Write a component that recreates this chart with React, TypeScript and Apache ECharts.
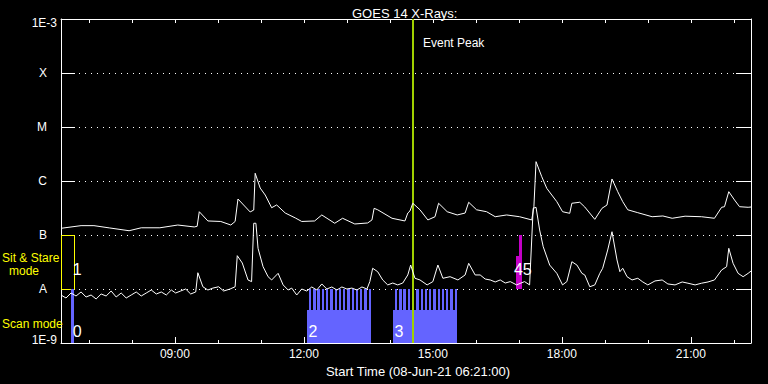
import React, { useEffect, useRef } from 'react';
import * as echarts from 'echarts';

const FONT = '"Liberation Sans", Arial, sans-serif';

// ---- axis definitions ----
const AXIS_START = '06:21';
const AXIS_END = '22:24';
const majorTickHours = [9, 12, 15, 18, 21];
const minorTickHours = [7, 8, 9, 10, 11, 12, 13, 14, 15, 16, 17, 18, 19, 20, 21, 22];
const yDecades = [-9, -8, -7, -6, -5, -4, -3];
const yTickLabels = ['1E-9', 'A', 'B', 'C', 'M', 'X', '1E-3'];

// ---- GOES long channel (1-8 A) ----
const longTimes = ['06:21','06:49','07:07','07:29','07:56','08:13','08:39','09:04','09:27','09:31','09:34','09:46','10:04','10:18','10:24','10:28','10:45','10:50','10:52','10:59','11:06','11:15','11:22','11:34','11:48','11:57','12:15','12:25','12:43','12:54','13:11','13:29','13:35','13:38','13:43','14:03','14:21','14:25','14:28','14:32','14:42','14:53','15:03','15:08','15:20','15:34','15:45','15:50','16:01','16:15','16:27','16:43','17:01','17:18','17:21','17:24','17:32','17:39','17:53','18:01','18:11','18:14','18:25','18:32','18:46','18:56','19:03','19:10','19:18','19:25','19:32','19:46','20:06','20:21','20:34','20:52','21:15','21:33','21:43','21:47','21:53','22:01','22:08','22:20','22:24'];
const longFlux = [1.33e-7,1.49e-7,1.49e-7,1.35e-7,1.2e-7,1.36e-7,1.36e-7,1.53e-7,1.41e-7,1.45e-7,2.7e-7,1.82e-7,1.78e-7,1.53e-7,1.78e-7,4.64e-7,2.67e-7,2.9e-7,1.39e-6,7.4e-7,5.5e-7,3.2e-7,3.6e-7,2.55e-7,2.07e-7,1.78e-7,1.82e-7,2.35e-7,1.65e-7,2.04e-7,1.6e-7,1.67e-7,1.9e-7,3.12e-7,2.93e-7,2.04e-7,1.82e-7,2.55e-7,2.78e-7,3.87e-7,2.93e-7,1.9e-7,2.18e-7,3.87e-7,2.7e-7,2.35e-7,2.55e-7,4.04e-7,2.93e-7,2.7e-7,2.18e-7,2.35e-7,2.18e-7,1.9e-7,3.34e-7,2.28e-6,1.2e-6,7.3e-7,4.14e-7,2.7e-7,2.52e-7,3.87e-7,4.04e-7,3.3e-7,1.95e-7,3.12e-7,3.59e-7,1.09e-6,6.34e-7,4.14e-7,2.93e-7,2.59e-7,2.18e-7,2.25e-7,2.04e-7,2.23e-7,2.18e-7,2.04e-7,3.26e-7,3.34e-7,6.34e-7,4.45e-7,3.34e-7,3.26e-7,3.3e-7];

// ---- GOES short channel (0.5-4 A) ----
const shortTimes = ['06:21','06:28','06:35','06:42','06:49','06:56','07:03','07:10','07:17','07:24','07:31','07:38','07:45','07:52','07:59','08:06','08:13','08:20','08:27','08:34','08:41','08:48','08:55','09:01','09:08','09:15','09:22','09:29','09:32','09:39','09:46','09:53','10:01','10:08','10:17','10:24','10:27','10:34','10:42','10:47','10:50','10:53','10:56','11:03','11:10','11:15','11:24','11:31','11:38','11:43','11:50','11:57','12:04','12:11','12:18','12:25','12:32','12:39','12:46','12:53','13:00','13:07','13:14','13:21','13:28','13:32','13:36','13:43','13:50','13:57','14:04','14:11','14:18','14:25','14:29','14:35','14:42','14:52','15:00','15:07','15:14','15:24','15:35','15:45','15:50','15:59','16:06','16:13','16:20','16:27','16:34','16:41','16:48','16:57','17:03','17:08','17:15','17:20','17:24','17:29','17:34','17:43','17:53','18:01','18:07','18:14','18:21','18:28','18:32','18:39','18:46','18:53','18:57','19:04','19:10','19:17','19:21','19:25','19:31','19:38','19:46','19:53','20:00','20:10','20:20','20:28','20:38','20:48','20:56','21:06','21:15','21:24','21:33','21:43','21:50','21:53','21:59','22:06','22:13','22:20','22:24'];
const shortFlux = [7.74e-9,6.81e-9,8.43e-9,7.42e-9,8.8e-9,7.11e-9,7.74e-9,6.53e-9,8.08e-9,7.42e-9,9.18e-9,7.11e-9,8.43e-9,6.81e-9,7.74e-9,8.8e-9,7.42e-9,8.43e-9,9.58e-9,8.08e-9,8.8e-9,7.74e-9,9.58e-9,8.43e-9,9.18e-9,1.0e-8,8.08e-9,8.8e-9,2.0e-8,1.1e-8,9.58e-9,1.04e-8,1.1e-8,9.18e-9,1.0e-8,1.1e-8,4.14e-8,3.03e-8,1.47e-8,1.37e-8,1.65e-7,1.65e-7,5.67e-8,2.59e-8,1.69e-8,1.47e-8,1.95e-8,1.19e-8,9.58e-9,1.04e-8,7.74e-9,1.0e-8,9.18e-9,1.09e-8,9.58e-9,1.24e-8,1.0e-8,1.09e-8,9.58e-9,1.09e-8,1.0e-8,1.04e-8,9.58e-9,1.09e-8,1.0e-8,1.37e-8,2.42e-8,2.09e-8,1.47e-8,1.19e-8,1.29e-8,1.19e-8,1.29e-8,1.82e-8,2.78e-8,1.58e-8,1.47e-8,1.19e-8,1.37e-8,2.78e-8,1.58e-8,1.69e-8,1.47e-8,1.82e-8,2.99e-8,1.82e-8,1.82e-8,1.53e-8,1.47e-8,1.35e-8,1.47e-8,1.29e-8,1.37e-8,1.19e-8,1.29e-8,1.37e-8,1.19e-8,3.12e-7,3.26e-7,1.24e-7,6.07e-8,2.78e-8,1.95e-8,1.19e-8,1.37e-8,3.2e-8,2.78e-8,1.95e-8,1.82e-8,1.1e-8,1.19e-8,1.95e-8,2.42e-8,5.27e-8,1.15e-7,3.45e-8,2.09e-8,2.42e-8,1.69e-8,1.47e-8,1.58e-8,1.35e-8,1.19e-8,1.41e-8,1.47e-8,1.24e-8,1.19e-8,1.35e-8,1.28e-8,1.19e-8,1.28e-8,1.35e-8,1.47e-8,2.25e-8,2.59e-8,5.67e-8,2.99e-8,1.95e-8,1.69e-8,1.95e-8,2.15e-8];

// ---- observation modes ----
const modeIds = ['1', '0', '2', '3', '4', '5'];
const modeKinds = ['outline', 'scan', 'raster', 'raster', 'stare', 'stare'];
const modeStart = ['06:21', '06:35', '12:04', '14:04', '16:56', '17:00'];
const modeEnd = ['06:39', '06:39', '13:34', '15:34', '17:04', '17:04'];
const modeBase = [1e-8, 1e-9, 1e-9, 1e-9, 1e-8, 1e-8];
const modeTop = [1e-7, 1e-8, 1e-8, 1e-8, 4.1e-8, 1e-7];
const modeSteps = [1, 1, 15, 15, 1, 1];
const modeLabelAt = ['06:36', '06:36', '12:05', '14:05', '16:52', '17:04'];

// ---- event ----
const eventPeakTime = '14:32';
const eventPeakLabel = 'Event Peak';

const toH = (s: string) => {
  const [h, m] = s.split(':').map(Number);
  return h + m / 60;
};

const BLUE = '#6464ff';
const MAGENTA = '#c400c8';
const YELLOW = '#ffff00';
const GREEN = '#a0d000';

export default function App() {
  const ref = useRef<HTMLDivElement>(null);

  useEffect(() => {
    document.body.style.margin = '0';
    document.body.style.background = '#000';
    const chart = echarts.init(ref.current as HTMLDivElement, undefined, { renderer: 'svg' });

    const longData = longTimes.map((t, i) => [toH(t), longFlux[i]]);
    const shortData = shortTimes.map((t, i) => [toH(t), shortFlux[i]]);
    const modeData = modeIds.map((_, i) => [toH(modeStart[i]), toH(modeEnd[i]), modeBase[i], modeTop[i], toH(modeLabelAt[i])]);

    const yLabelFmt = (v: number) => {
      const e = Math.round(Math.log10(v));
      const idx = yDecades.indexOf(e);
      if (idx < 0) return '';
      const t = yTickLabels[idx];
      if (t.length === 1) return `{c|${t}}`;
      return e === -3 ? `{t|${t}}` : `{b|${t}}`;
    };
    const richBase = { color: '#fff', fontSize: 12, fontFamily: FONT };

    const option: any = {
      backgroundColor: '#000',
      animation: false,
      title: {
        text: 'GOES 14 X-Rays:',
        left: 347,
        top: 2,
        textStyle: { color: '#fff', fontSize: 13, fontWeight: 'normal', fontFamily: FONT },
      },
      grid: { left: 61, right: 17, top: 19, bottom: 41 },
      xAxis: [
        {
          type: 'value',
          position: 'bottom',
          min: toH(AXIS_START),
          max: toH(AXIS_END),
          axisLine: { show: true, lineStyle: { color: '#fff', width: 1 } },
          axisTick: { show: true, inside: true, length: 6, customValues: majorTickHours, lineStyle: { color: '#fff' } },
          axisLabel: {
            show: true,
            customValues: majorTickHours,
            formatter: (v: number) => `${String(Math.round(v)).padStart(2, '0')}:00`,
            color: '#fff',
            fontSize: 12,
            fontFamily: FONT,
            margin: 5,
          },
          splitLine: { show: false },
          name: 'Start Time (08-Jun-21 06:21:00)',
          nameLocation: 'middle',
          nameGap: 18,
          nameTextStyle: { color: '#fff', fontSize: 13, fontFamily: FONT, padding: [0, 0, 0, 24] },
        },
        {
          type: 'value',
          position: 'bottom',
          min: toH(AXIS_START),
          max: toH(AXIS_END),
          axisLine: { show: false },
          axisTick: { show: true, inside: true, length: 3, customValues: minorTickHours, lineStyle: { color: '#fff' } },
          axisLabel: { show: false },
          splitLine: { show: false },
        },
        {
          type: 'value',
          position: 'top',
          min: toH(AXIS_START),
          max: toH(AXIS_END),
          axisLine: { show: true, lineStyle: { color: '#fff', width: 1 } },
          axisTick: { show: true, inside: true, length: 4, customValues: minorTickHours, lineStyle: { color: '#fff' } },
          axisLabel: { show: false },
          splitLine: { show: false },
        },
      ],
      yAxis: [
        {
          type: 'log',
          logBase: 10,
          min: 1e-9,
          max: 1e-3,
          position: 'left',
          axisLine: { show: true, lineStyle: { color: '#fff', width: 1 } },
          axisTick: { show: true, inside: true, length: 14, lineStyle: { color: '#fff' } },
          axisLabel: {
            formatter: yLabelFmt,
            margin: 4,
            color: '#fff',
            fontSize: 12,
            fontFamily: FONT,
            rich: {
              c: { ...richBase, padding: [0, 10, 0, 0] },
              t: { ...richBase, padding: [8, 0, 0, 0] },
              b: { ...richBase, padding: [0, 0, 6, 0] },
            },
          },
          splitLine: { show: true, lineStyle: { color: '#fff', width: 1, type: [1, 5] } },
        },
        {
          type: 'log',
          logBase: 10,
          min: 1e-9,
          max: 1e-3,
          position: 'right',
          axisLine: { show: true, lineStyle: { color: '#fff', width: 1 } },
          axisTick: { show: true, inside: true, length: 15, lineStyle: { color: '#fff' } },
          axisLabel: { show: false },
          splitLine: { show: false },
        },
      ],
      graphic: [
        { type: 'text', x: 2, y: 258, z: 10, style: { text: 'Sit & Stare', fill: YELLOW, font: `12px ${FONT}`, verticalAlign: 'middle', textVerticalAlign: 'middle' } },
        { type: 'text', x: 24, y: 271, z: 10, style: { text: 'mode', fill: YELLOW, font: `12px ${FONT}`, align: 'center', textAlign: 'center', verticalAlign: 'middle', textVerticalAlign: 'middle' } },
        { type: 'text', x: 2, y: 324, z: 10, style: { text: 'Scan mode', fill: YELLOW, font: `12px ${FONT}`, verticalAlign: 'middle', textVerticalAlign: 'middle' } },
      ],
      series: [
        {
          type: 'custom',
          name: 'modes',
          xAxisIndex: 0,
          yAxisIndex: 0,
          z: 1,
          encode: { x: [0, 1], y: [2, 3] },
          data: modeData,
          renderItem: (params: any, api: any) => {
            const i = params.dataIndex;
            const kind = modeKinds[i];
            const p0 = api.coord([api.value(0), api.value(2)]);
            const p1 = api.coord([api.value(1), api.value(3)]);
            const x0 = Math.round(p0[0]);
            const x1 = Math.round(p1[0]);
            const yb = Math.round(p0[1]);
            const yt = Math.round(p1[1]);
            const lx = api.coord([api.value(4), api.value(2)])[0];
            const children: any[] = [];
            if (kind === 'outline') {
              children.push({ type: 'rect', shape: { x: x0 + 0.5, y: yt + 0.5, width: x1 - x0, height: yb - yt }, style: { fill: 'none', stroke: YELLOW, lineWidth: 1 } });
            } else if (kind === 'scan') {
              children.push({ type: 'rect', shape: { x: x0, y: yt, width: x1 - x0, height: yb - yt }, style: { fill: BLUE } });
            } else if (kind === 'stare') {
              children.push({ type: 'rect', shape: { x: x0, y: yt, width: x1 - x0, height: yb - yt }, style: { fill: MAGENTA } });
            } else {
              const split = Math.round(yb - (yb - yt) * 0.61);
              children.push({ type: 'rect', shape: { x: x0, y: split, width: x1 - x0, height: yb - split }, style: { fill: BLUE } });
              const n = modeSteps[i];
              const w = (x1 - x0) / n;
              for (let k = 0; k < n; k++) {
                const sx = Math.round(x0 + (k + 0.45) * w);
                const ex = Math.round(x0 + (k + 1) * w);
                children.push({ type: 'rect', shape: { x: sx, y: yt, width: Math.max(1, ex - sx), height: split - yt }, style: { fill: BLUE } });
              }
            }
            const off = modeBase[i] < 5e-9 ? 4 : 12;
            children.push({
              type: 'text',
              x: lx + 1,
              y: yb - off,
              z2: 20,
              style: { text: modeIds[i], fill: '#fff', font: `16px ${FONT}`, align: 'left', textAlign: 'left', verticalAlign: 'bottom', textVerticalAlign: 'bottom' },
            });
            return { type: 'group', children };
          },
        },
        {
          type: 'custom',
          name: 'event',
          xAxisIndex: 0,
          yAxisIndex: 0,
          z: 2,
          encode: { x: 0, y: 1 },
          data: [[toH(eventPeakTime), 1e-6]],
          renderItem: (params: any, api: any) => {
            const cs = params.coordSys;
            const x = Math.round(api.coord([api.value(0), api.value(1)])[0]);
            return {
              type: 'group',
              children: [
                { type: 'line', shape: { x1: x, y1: cs.y, x2: x, y2: cs.y + cs.height }, style: { stroke: GREEN, lineWidth: 2 } },
                { type: 'text', x: x + 10, y: cs.y + 24, style: { text: eventPeakLabel, fill: '#fff', font: `12px ${FONT}`, verticalAlign: 'middle', textVerticalAlign: 'middle' } },
              ],
            };
          },
        },
        {
          type: 'line',
          name: 'long',
          xAxisIndex: 0,
          yAxisIndex: 0,
          z: 3,
          data: longData,
          showSymbol: false,
          symbol: 'none',
          lineStyle: { color: '#fff', width: 1 },
        },
        {
          type: 'line',
          name: 'short',
          xAxisIndex: 0,
          yAxisIndex: 0,
          z: 3,
          data: shortData,
          showSymbol: false,
          symbol: 'none',
          lineStyle: { color: '#fff', width: 1 },
        },
      ],
    };

    chart.setOption(option);
    return () => chart.dispose();
  }, []);

  return (
    <div
      ref={ref}
      style={{ position: 'fixed', left: 0, top: 0, width: 768, height: 384, background: '#000' }}
    />
  );
}
